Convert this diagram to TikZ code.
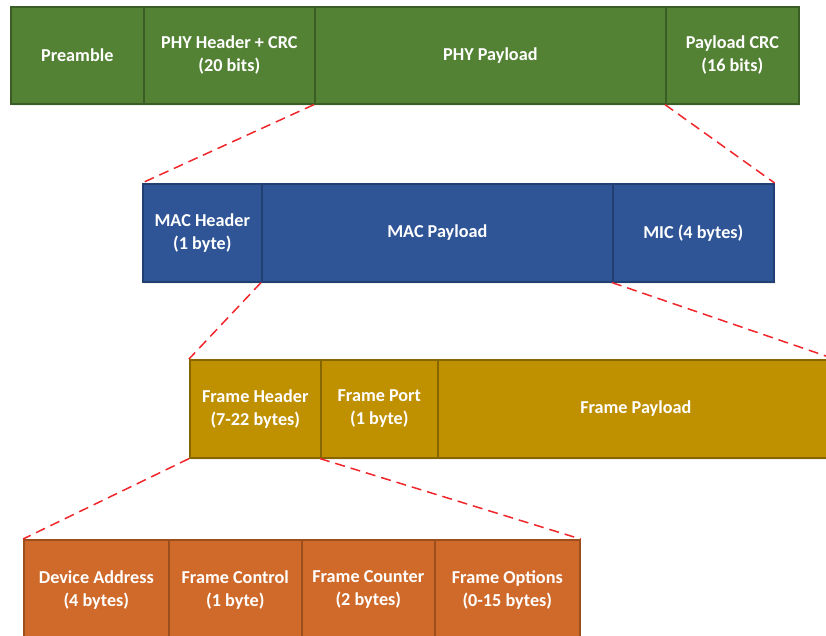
\documentclass[tikz,border=0pt]{standalone}
\usepackage{fontspec}
\setmainfont{Carlito}
\usetikzlibrary{shadows}

\definecolor{phyfill}{HTML}{548235}
\definecolor{phyline}{HTML}{3A5C25}
\definecolor{macfill}{HTML}{2F5597}
\definecolor{macline}{HTML}{223F72}
\definecolor{frmfill}{HTML}{BF9000}
\definecolor{frmline}{HTML}{866600}
\definecolor{fhdfill}{HTML}{CF6A2B}
\definecolor{fhdline}{HTML}{9C4F1D}
\definecolor{zoomline}{HTML}{F0262B}

\tikzset{
  cell/.style={rectangle, anchor=north west, inner sep=0pt, line width=1.6pt,
    text=white, align=center,
    font=\fontsize{18.2}{23}\selectfont\bfseries,
    drop shadow={opacity=0.12, shadow xshift=1.5pt, shadow yshift=-2pt}},
  phycell/.style={cell, fill=phyfill, draw=phyline, minimum height=97pt},
  maccell/.style={cell, fill=macfill, draw=macline, minimum height=98pt},
  frmcell/.style={cell, fill=frmfill, draw=frmline, minimum height=98pt},
  fhdcell/.style={cell, fill=fhdfill, draw=fhdline, minimum height=100pt},
  zoom/.style={draw=zoomline, line width=1.5pt, dash pattern=on 10pt off 6pt}
}

\begin{document}
\begin{tikzpicture}[x=1pt, y=-1pt]
  \useasboundingbox (0,0) rectangle (826,635);
  \clip (0,0) rectangle (826,635);

  % PHY frame
  \node[phycell, minimum width=133pt] (p1) at (10,6)  {Preamble};
  \node[phycell, minimum width=171pt] (p2) at (143,6) {PHY Header + CRC\\(20 bits)};
  \node[phycell, minimum width=351pt] (p3) at (314,6) {PHY Payload};
  \node[phycell, minimum width=133pt] (p4) at (665,6) {Payload CRC\\(16 bits)};

  % MAC frame
  \node[maccell, minimum width=119pt] (m1) at (142,183) {MAC Header\\(1 byte)};
  \node[maccell, minimum width=351pt] (m2) at (261,183) {MAC Payload};
  \node[maccell, minimum width=161pt] (m3) at (612,183) {MIC (4 bytes)};

  % MAC payload
  \node[frmcell, minimum width=131pt] (f1) at (189,359) {Frame Header\\(7-22 bytes)};
  \node[frmcell, minimum width=117pt] (f2) at (320,359) {Frame Port\\(1 byte)};
  \node[frmcell, minimum width=396pt] (f3) at (437,359) {Frame Payload};

  % Frame header
  \node[fhdcell, minimum width=145pt] (d1) at (23,539)  {Device Address\\(4 bytes)};
  \node[fhdcell, minimum width=133pt] (d2) at (168,539) {Frame Control\\(1 byte)};
  \node[fhdcell, minimum width=133pt] (d3) at (301,539) {Frame Counter\\(2 bytes)};
  \node[fhdcell, minimum width=145pt] (d4) at (434,539) {Frame Options\\(0-15 bytes)};

  % expansion lines
  \draw[zoom] (p3.south west) -- (m1.north west);
  \draw[zoom] (p4.south west) -- (m3.north east);
  \draw[zoom] (m2.south west) -- (f1.north west);
  \draw[zoom] (m3.south west) -- (f3.north east);
  \draw[zoom] (f1.south west) -- (d1.north west);
  \draw[zoom] (f2.south west) -- (d4.north east);
\end{tikzpicture}
\end{document}
